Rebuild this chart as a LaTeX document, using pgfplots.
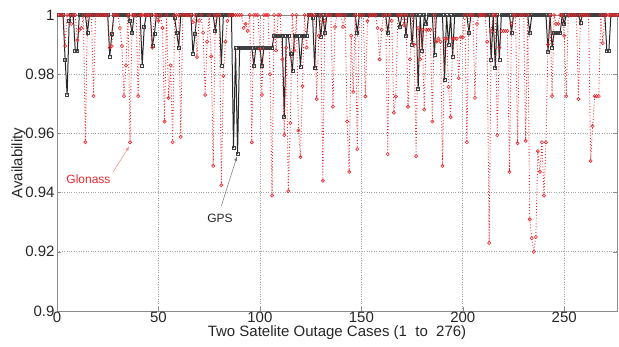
\documentclass[border=0pt]{standalone}
\usepackage{fontspec}
\setmainfont{Liberation Sans}
\usepackage{pgfplots}
\pgfplotsset{compat=1.18}
\definecolor{glred}{RGB}{232,40,45}
\begin{document}
\begin{tikzpicture}
\useasboundingbox (-57pt,-36pt) rectangle (562pt,311pt);
\begin{axis}[
  at={(0,0)}, anchor=south west,
  scale only axis, width=560pt, height=296pt,
  xmin=0, xmax=276, ymin=0.9, ymax=1,
  xtick={0,50,100,150,200,250},
  ytick={0.9,0.92,0.94,0.96,0.98,1},
  /pgf/number format/assume math mode=true,
  yticklabel style={/pgf/number format/fixed,/pgf/number format/precision=2, xshift=1pt},
  xticklabel style={yshift=3pt},
  tick label style={font=\fontsize{15}{18}\selectfont, text=black!85},
  label style={font=\fontsize{15}{18}\selectfont, text=black!85},
  xlabel={Two Satelite Outage Cases (1\ \ to\ \ 276)},
  ylabel={Availability},
  xlabel style={yshift=1.5pt, inner ysep=1pt},
  ylabel style={yshift=-7pt},
  grid=major,
  major grid style={dotted, black!35, line width=0.6pt},
  axis line style={black!45},
  tick style={black!45},
  tick align=inside,
  major tick length=4pt,
  clip=true,
]
\addplot[black!85, line width=1pt, mark=square, mark size=1.5pt, mark options={solid, draw=black!75, line width=0.6pt}] coordinates {
(1,1)(2,1)(3,1)(4,0.985)(5,0.973)(6,0.998)(7,1)(8,1)(9,0.988)(10,0.988)
(11,1)(12,1)(13,1)(14,1)(15,0.994)(16,1)(17,1)(18,1)(19,1)(20,1)
(21,1)(22,1)(23,1)(24,1)(25,1)(26,0.986)(27,0.9935)(28,1)(29,1)(30,1)
(31,1)(32,1)(33,1)(34,1)(35,1)(36,0.998)(37,0.994)(38,1)(39,1)(40,1)
(41,1)(42,0.983)(43,0.996)(44,1)(45,1)(46,1)(47,0.9895)(48,0.9935)(49,1)(50,1)
(51,1)(52,1)(53,1)(54,1)(55,1)(56,1)(57,1)(58,0.999)(59,0.994)(60,0.989)
(61,1)(62,1)(63,1)(64,1)(65,1)(66,1)(67,0.987)(68,0.9935)(69,1)(70,1)
(71,1)(72,1)(73,1)(74,1)(75,1)(76,1)(77,1)(78,0.9946)(79,1)(80,1)
(81,0.983)(82,1)(83,1)(84,1)(85,1)(86,1)(87,0.955)(88,0.989)(89,0.953)(90,0.989)
(91,0.989)(92,0.989)(93,0.989)(94,0.989)(95,0.989)(96,0.989)(97,0.983)(98,0.989)(99,0.989)(100,0.989)
(101,0.983)(102,0.989)(103,0.989)(104,0.989)(105,0.989)(106,0.989)(107,0.993)(108,0.993)(109,0.993)(110,0.993)
(111,0.993)(112,0.9655)(113,0.993)(114,0.993)(115,0.987)(116,0.981)(117,0.993)(118,0.993)(119,0.993)(120,0.9825)
(121,0.993)(122,0.993)(123,0.993)(124,1)(125,1)(126,0.999)(127,0.982)(128,1)(129,1)(130,0.9925)
(131,1)(132,0.994)(133,1)(134,1)(135,1)(136,1)(137,1)(138,1)(139,1)(140,1)
(141,1)(142,1)(143,1)(144,1)(145,1)(146,1)(147,1)(148,0.994)(149,1)(150,1)
(151,1)(152,1)(153,1)(154,1)(155,1)(156,1)(157,1)(158,1)(159,1)(160,1)
(161,1)(162,1)(163,0.994)(164,1)(165,1)(166,1)(167,1)(168,1)(169,0.996)(170,1)
(171,1)(172,0.993)(173,1)(174,1)(175,0.990)(176,1)(177,1)(178,0.975)(179,1)(180,0.988)
(181,1)(182,0.997)(183,1)(184,1)(185,1)(186,0.9865)(187,1)(188,1)(189,1)(190,1)
(191,0.978)(192,1)(193,0.990)(194,1)(195,0.986)(196,1)(197,1)(198,1)(199,1)(200,1)
(201,1)(202,1)(203,0.994)(204,1)(205,1)(206,1)(207,1)(208,1)(209,1)(210,1)
(211,1)(212,1)(213,1)(214,0.985)(215,1)(216,0.982)(217,1)(218,0.985)(219,1)(220,1)
(221,1)(222,1)(223,1)(224,0.994)(225,1)(226,1)(227,1)(228,1)(229,1)(230,1)
(231,1)(232,1)(233,0.994)(234,1)(235,1)(236,1)(237,1)(238,1)(239,1)(240,1)
(241,1)(242,0.9875)(243,1)(244,0.989)(245,0.994)(246,0.994)(247,0.994)(248,0.994)(249,1)(250,0.997)
(251,1)(252,1)(253,1)(254,1)(255,1)(256,1)(257,1)(258,0.9975)(259,1)(260,1)
(261,1)(262,1)(263,1)(264,1)(265,1)(266,1)(267,1)(268,1)(269,1)(270,1)
(271,0.988)(272,0.988)(273,1)(274,1)(275,1)(276,1)
};
\addplot[glred, dotted, line width=0.9pt, mark=o, mark size=1.6pt, mark options={solid, draw=glred, line width=0.6pt}] coordinates {
(1,1)(2,1)(3,1)(4,0.9895)(5,1)(6,1)(7,0.997)(8,1)(9,1)(10,0.9915)
(11,0.995)(12,0.9956)(13,1)(14,0.957)(15,1)(16,1)(17,1)(18,0.9726)(19,1)(20,1)
(21,1)(22,1)(23,1)(24,1)(25,1)(26,0.989)(27,0.9895)(28,1)(29,1)(30,1)
(31,0.9956)(32,0.9895)(33,0.9726)(34,0.983)(35,1)(36,0.957)(37,1)(38,1)(39,1)(40,0.9726)
(41,1)(42,1)(43,1)(44,1)(45,1)(46,1)(47,0.989)(48,1)(49,1)(50,0.998)
(51,1)(52,0.9956)(53,0.964)(54,1)(55,0.972)(56,0.983)(57,0.957)(58,1)(59,1)(60,1)
(61,0.9588)(62,1)(63,1)(64,1)(65,1)(66,1)(67,0.9976)(68,1)(69,0.9858)(70,0.998)
(71,1)(72,0.994)(73,0.973)(74,0.991)(75,1)(76,0.986)(77,0.949)(78,1)(79,1)(80,1)
(81,0.9425)(82,0.9795)(83,0.991)(84,0.998)(85,1)(86,1)(87,1)(88,1)(89,1)(90,1)
(91,1)(92,0.9956)(93,0.997)(94,0.9946)(95,1)(96,0.957)(97,1)(98,1)(99,1)(100,0.9885)
(101,0.973)(102,1)(103,1)(104,1)(105,0.980)(106,0.939)(107,1)(108,0.988)(109,1)(110,1)
(111,0.985)(112,0.9594)(113,0.989)(114,0.9405)(115,0.9635)(116,1)(117,0.988)(118,1)(119,0.961)(120,0.952)
(121,0.976)(122,1)(123,0.989)(124,1)(125,1)(126,1)(127,1)(128,0.9716)(129,0.993)(130,1)
(131,0.944)(132,0.998)(133,1)(134,1)(135,1)(136,0.969)(137,0.996)(138,1)(139,1)(140,1)
(141,0.996)(142,1)(143,0.964)(144,0.947)(145,0.993)(146,0.974)(147,1)(148,0.9547)(149,1)(150,1)
(151,1)(152,0.9725)(153,0.998)(154,1)(155,1)(156,1)(157,1)(158,0.9956)(159,0.985)(160,0.995)
(161,1)(162,1)(163,0.953)(164,1)(165,0.998)(166,0.967)(167,0.9725)(168,1)(169,1)(170,1)
(171,0.9966)(172,1)(173,0.969)(174,0.985)(175,1)(176,0.990)(177,0.9523)(178,0.9956)(179,0.985)(180,0.995)
(181,0.968)(182,0.995)(183,0.995)(184,0.995)(185,0.964)(186,1)(187,0.991)(188,0.992)(189,0.991)(190,0.949)
(191,0.992)(192,0.992)(193,0.9757)(194,0.9655)(195,0.992)(196,0.992)(197,0.992)(198,0.9787)(199,0.9925)(200,0.9925)
(201,1)(202,0.957)(203,1)(204,1)(205,1)(206,0.972)(207,0.997)(208,1)(209,1)(210,1)
(211,1)(212,0.991)(213,0.923)(214,0.9946)(215,1)(216,1)(217,0.9594)(218,0.989)(219,0.9946)(220,0.9946)
(221,0.9946)(222,0.9946)(223,0.947)(224,0.997)(225,1)(226,1)(227,0.9567)(228,1)(229,1)(230,1)
(231,0.9575)(232,1)(233,0.931)(234,0.9246)(235,0.920)(236,0.925)(237,0.954)(238,0.947)(239,0.957)(240,0.939)
(241,0.957)(242,0.990)(243,1)(244,0.9726)(245,1)(246,0.997)(247,0.997)(248,1)(249,1)(250,0.993)
(251,0.9726)(252,1)(253,1)(254,1)(255,1)(256,1)(257,0.9716)(258,1)(259,1)(260,1)
(261,1)(262,1)(263,0.9507)(264,0.9625)(265,0.9726)(266,0.9726)(267,0.9726)(268,1)(269,0.9905)(270,1)
(271,1)(272,1)(273,1)(274,1)(275,1)(276,1)
};
\node[text=glred, font=\fontsize{12}{14}\selectfont] at (axis cs:15.5,0.9445) {Glonass};
\draw[-latex, glred!55, line width=0.5pt] (axis cs:27.6,0.9469) -- (axis cs:35.6,0.9556);
\node[text=black!85, font=\fontsize{12}{14}\selectfont] at (axis cs:80.3,0.9312) {GPS};
\draw[-latex, black!55, line width=0.5pt] (axis cs:81,0.9355) -- (axis cs:88.7,0.9522);
\end{axis}
\end{tikzpicture}
\end{document}
